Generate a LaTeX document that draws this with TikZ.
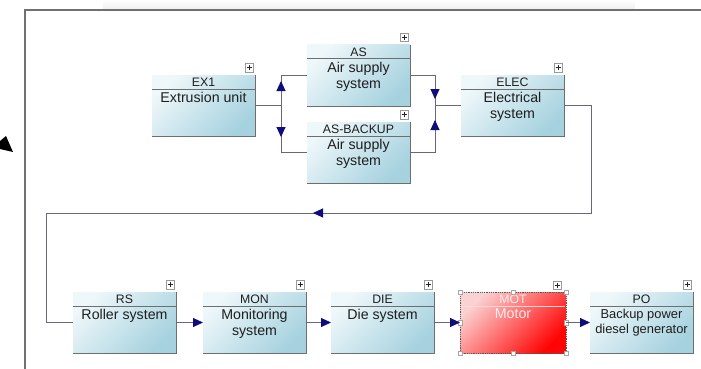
\documentclass[tikz,border=0pt]{standalone}
\usepackage{fontspec}
\setmainfont{Liberation Sans}
\usetikzlibrary{arrows.meta,calc}
\definecolor{boxA}{HTML}{EEF7FA}
\definecolor{boxB}{HTML}{A6D2DF}
\definecolor{motA}{HTML}{FBD2D2}
\definecolor{motB}{HTML}{FF0505}
\definecolor{linec}{HTML}{66667E}
\definecolor{tipc}{HTML}{0E0E7A}
\definecolor{edgec}{HTML}{6E6E6E}
\definecolor{framec}{HTML}{707070}
\definecolor{txtc}{HTML}{1E1E1E}
\tikzset{
  sysbox/.style={inner sep=0pt, outer sep=0pt, minimum width=103pt, minimum height=61pt,
    shade, top color=boxA, bottom color=boxB, shading angle=45},
  motbox/.style={inner sep=0pt, outer sep=0pt, minimum width=106pt, minimum height=61pt,
    shade, top color=motA, bottom color=motB, shading angle=45,
    draw=gray!70!black, densely dotted, line width=0.8pt},
  boxline/.style={draw=edgec, line width=1pt},
  motline/.style={draw=white!85!red, line width=0.8pt},
  hdr/.style={inner sep=0pt, text=txtc, font=\fontsize{12.3}{14}\selectfont},
  bdy/.style={inner sep=0pt, text=txtc, align=center, font=\fontsize{14.2}{15.6}\selectfont},
  bdysmall/.style={inner sep=0pt, text=txtc, align=center, font=\fontsize{12.9}{15.2}\selectfont},
  plusbox/.style={draw=gray!80, fill=white, line width=0.5pt, minimum size=8.5pt, inner sep=0pt,
    path picture={\draw[gray!30!black, line width=0.5pt]
      ([xshift=-2.5pt]path picture bounding box.center) -- ([xshift=2.5pt]path picture bounding box.center)
      ([yshift=-2.5pt]path picture bounding box.center) -- ([yshift=2.5pt]path picture bounding box.center);}},
  handle/.style={draw=gray!70, fill=white, line width=0.5pt, minimum size=4.5pt, inner sep=0pt},
  conn/.style={draw=linec, line width=1pt},
  arr/.style={draw=linec, line width=1pt, -{Triangle[length=10pt,width=9pt,color=tipc]}},
}
% name, left x, top y, header, body, body style
\newcommand\sysblk[6]{%
  \node[sysbox, anchor=north west] (#1) at (#2,#3) {};
  \draw[boxline] ([yshift=-14pt]#1.north west) -- ([yshift=-14pt]#1.north east);
  \draw[boxline] (#1.north east) -- (#1.south east) -- (#1.south west);
  \node[hdr] (#1h) at ([yshift=-7.5pt]#1.north) {#4};
  \node[#6, anchor=north] (#1b) at ([yshift=-17pt]#1.north) {#5};
  \node[plusbox] (#1p) at ([xshift=-6pt,yshift=7.5pt]#1.north east) {};
}
\begin{document}
\begin{tikzpicture}[x=1pt,y=-1pt]
\useasboundingbox (0,0) rectangle (701,369);
\fill[white] (0,0) rectangle (701,369);
% top shadow and outer frame
\shade[top color=white, bottom color=gray!12] (103,0) rectangle (635,9);
\draw[framec, line width=1.6pt] (25,369) -- (25,10) -- (701,10);
% stray cursor arrowhead
\fill[black] (0,141) -- (6,136) -- (13,152) -- (0,149) -- cycle;

% blocks
\sysblk{ex1}{152}{75}{EX1}{Extrusion unit}{bdy}
\sysblk{as}{307}{45}{AS}{Air supply\\system}{bdy}
\sysblk{asb}{307}{122}{AS-BACKUP}{Air supply\\system}{bdy}
\sysblk{elec}{461}{75}{ELEC}{Electrical\\system}{bdy}
\sysblk{rs}{73}{292}{RS}{Roller system}{bdy}
\sysblk{mon}{203}{292}{MON}{Monitoring\\system}{bdy}
\sysblk{die}{331}{292}{DIE}{Die system}{bdy}
\sysblk{po}{590}{292}{PO}{Backup power\\diesel generator}{bdysmall}

% selected motor block
\node[motbox, anchor=north west] (mot) at (460,292) {};
\draw[motline] ([yshift=-14pt,xshift=1pt]mot.north west) -- ([yshift=-14pt,xshift=-1pt]mot.north east);
\node[hdr, text=white!92!red] (moth) at ([yshift=-7.5pt]mot.north) {MOT};
\node[bdy, text=white!92!red, anchor=north] (motb) at ([yshift=-17pt]mot.north) {Motor};
\node[plusbox] (motp) at ([xshift=-9pt,yshift=7pt]mot.north east) {};
\foreach \a in {north west,north,north east,east,south east,south,south west,west}
  \node[handle] at (mot.\a) {};

% split from EX1 to AS / AS-BACKUP
\coordinate (jl) at (281,0 |- ex1.east);
\coordinate (jlt) at (jl |- as.west);
\coordinate (jlb) at (jl |- asb.west);
\draw[conn] (ex1.east) -- (jl);
\draw[conn] (jlt) -- (jlb);
\draw[conn] (jlt) -- (as.west);
\draw[conn] (jlb) -- (asb.west);
\coordinate (aU1) at (281,91);
\coordinate (aU2) at (281,81);
\coordinate (aD1) at (281,127);
\coordinate (aD2) at (281,137);
\draw[arr] (aU1) -- (aU2);
\draw[arr] (aD1) -- (aD2);

% join from AS / AS-BACKUP to ELEC
\coordinate (jr) at (435,0 |- elec.west);
\coordinate (jrt) at (jr |- as.east);
\coordinate (jrb) at (jr |- asb.east);
\draw[conn] (as.east) -- (jrt) -- (jrb) -- (asb.east);
\draw[conn] (jr) -- (elec.west);
\coordinate (bD1) at (435,89);
\coordinate (bD2) at (435,99);
\coordinate (bU1) at (435,130);
\coordinate (bU2) at (435,120);
\draw[arr] (bD1) -- (bD2);
\draw[arr] (bU1) -- (bU2);

% feedback from ELEC to RS
\coordinate (e1) at (591,0 |- elec.east);
\coordinate (e2) at (591,213);
\coordinate (e3) at (46,213);
\coordinate (e4) at (46,0 |- rs.west);
\coordinate (eA1) at (324,213);
\coordinate (eA2) at (313,213);
\draw[conn] (elec.east) -- (e1) -- (e2) -- (e3) -- (e4) -- (rs.west);
\draw[arr] (eA1) -- (eA2);

% bottom row chain
\draw[arr] (rs.east) -- (mon.west);
\draw[arr] (mon.east) -- (die.west);
\draw[arr] (die.east) -- (die.east -| mot.west);
\draw[arr] (mot.east) -- (mot.east -| po.west);
\end{tikzpicture}
\end{document}
